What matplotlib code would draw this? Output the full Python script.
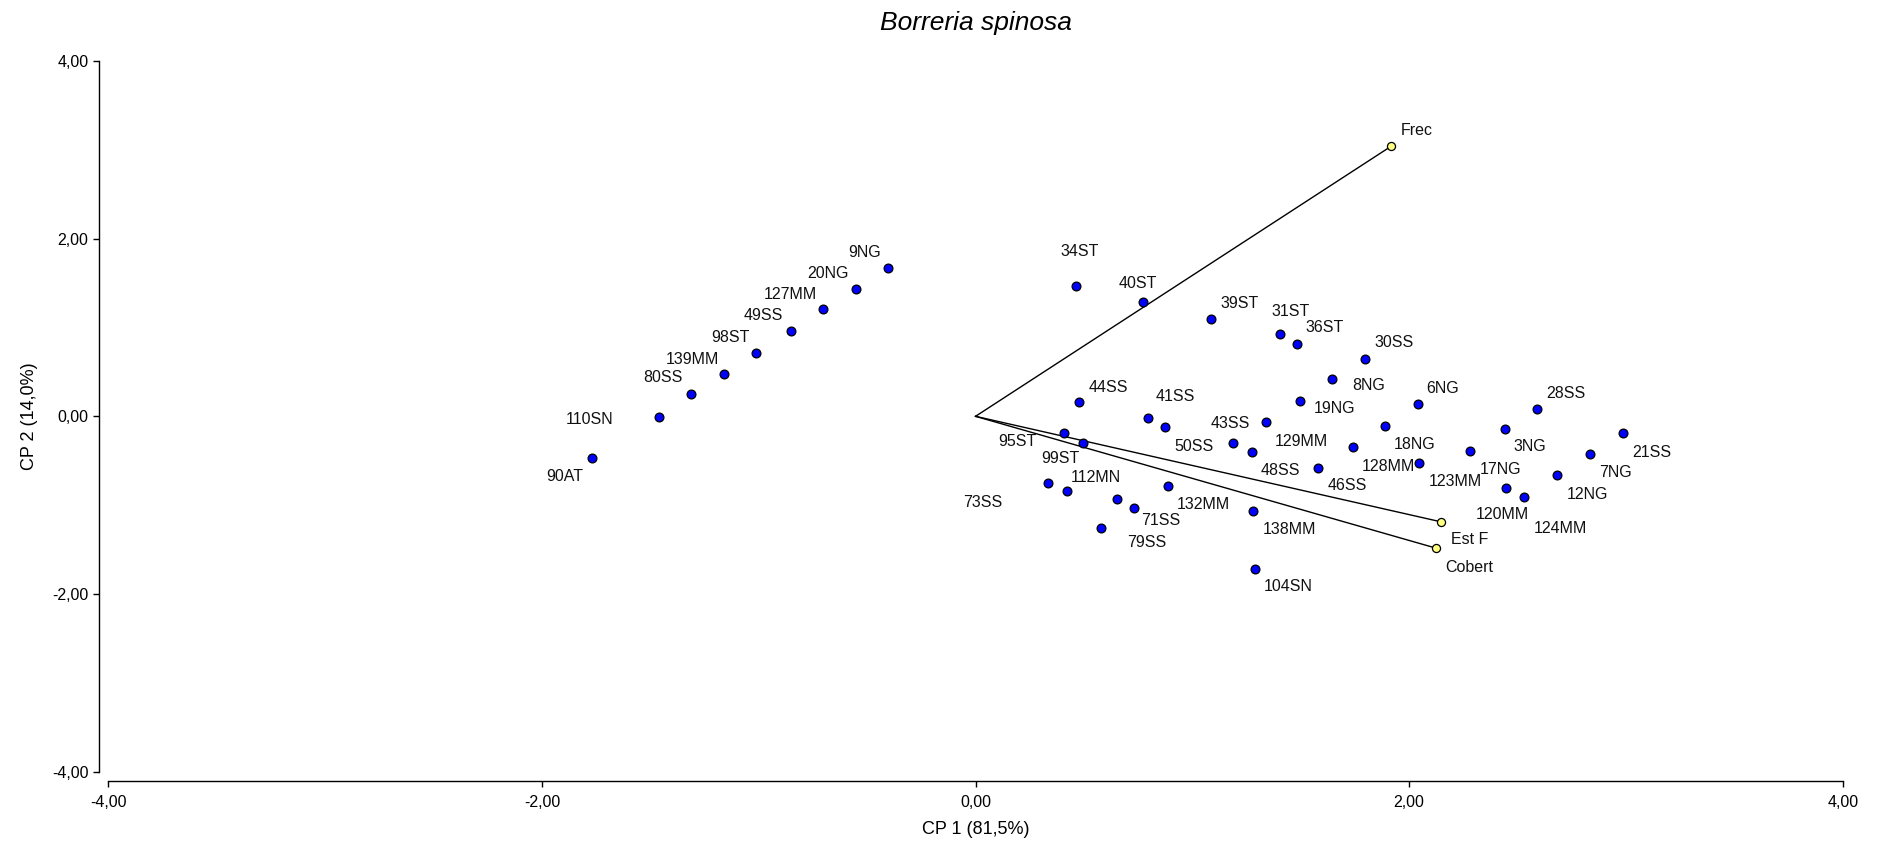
import matplotlib
matplotlib.use("Agg")
import matplotlib.pyplot as plt
from matplotlib.ticker import FixedLocator, FuncFormatter

plt.rcParams['font.family'] = ['Liberation Sans', 'DejaVu Sans']

# sites (scores on CP1 / CP2)
obs_labels = ['9NG', '20NG', '127MM', '49SS', '98ST', '139MM', '80SS', '110SN', '90AT',
              '34ST', '40ST', '39ST', '31ST', '36ST', '30SS', '8NG', '19NG', '6NG', '28SS',
              '44SS', '41SS', '50SS', '129MM', '43SS', '48SS', '46SS', '128MM', '18NG', '123MM',
              '95ST', '99ST',
              '3NG', '17NG', '7NG', '21SS', '12NG', '120MM', '124MM',
              '73SS', '112MN', '', '71SS', '79SS', '132MM', '138MM', '104SN']
obs_x = [-0.405, -0.552, -0.705, -0.853, -1.012, -1.160, -1.312, -1.460, -1.767,
         0.464, 0.772, 1.087, 1.403, 1.483, 1.797, 1.646, 1.495, 2.040, 2.591,
         0.479, 0.795, 0.873, 1.338, 1.187, 1.273, 1.581, 1.740, 1.889, 2.046,
         0.409, 0.495,
         2.441, 2.283, 2.836, 2.985, 2.683, 2.448, 2.528,
         0.336, 0.422, 0.652, 0.730, 0.578, 0.887, 1.281, 1.287]
obs_y = [1.675, 1.432, 1.206, 0.962, 0.717, 0.473, 0.248, -0.004, -0.474,
         1.469, 1.292, 1.100, 0.928, 0.818, 0.646, 0.417, 0.172, 0.142, 0.086,
         0.158, -0.019, -0.124, -0.068, -0.298, -0.402, -0.579, -0.350, -0.106, -0.523,
         -0.185, -0.298,
         -0.140, -0.388, -0.421, -0.192, -0.666, -0.805, -0.910,
         -0.752, -0.838, -0.929, -1.034, -1.259, -0.786, -1.068, -1.714]

# variables (loadings)
var_labels = ['Frec', 'Est F', 'Cobert']
var_x = [1.917, 2.148, 2.126]
var_y = [3.040, -1.188, -1.485]

ticks = [-4, -2, 0, 2, 4]

# where each label sits relative to its point (pixels, right / down)
obs_offsets = [(-23, -15), (-28, -16), (-32, -15), (-27, -15), (-26, -15), (-32, -15), (-28, -17), (-69, 3), (-28, 18),
               (4, -34), (-5, -18), (28, -15), (11, -22), (28, -16), (29, -16), (36, 6), (35, 7), (25, -15), (29, -15),
               (29, -15), (27, -22), (29, 19), (36, 19), (-3, -19), (29, 18), (29, 18), (36, 19), (30, 19), (36, 19),
               (-47, 9), (-22, 16),
               (25, 18), (30, 19), (25, 19), (29, 19), (30, 19), (-4, 27), (37, 31),
               (-66, 19), (29, -13), (0, 0), (27, 12), (46, 14), (36, 18), (36, 18), (34, 18)]
var_offsets = [(26, -16), (28, 18), (33, 19)]

fig = plt.figure(figsize=(18.78, 8.42), dpi=100)
ax = fig.add_axes([0.0577, 0.0835, 0.9235, 0.8441])

for vx, vy in zip(var_x, var_y):
    ax.plot([0, vx], [0, vy], color='black', lw=1.0, zorder=2)
ax.scatter(var_x, var_y, s=34, color='#ffff80', edgecolor='black', linewidth=0.9, zorder=3)
ax.scatter(obs_x, obs_y, s=40, color='#0000ff', edgecolor='black', linewidth=0.9, zorder=3)

for lab, x, y, (dx, dy) in zip(obs_labels, obs_x, obs_y, obs_offsets):
    if lab:
        ax.annotate(lab, (x, y), xytext=(dx, -dy), textcoords='offset pixels',
                    ha='center', va='center', fontsize=11.5, color='#111111')
for lab, x, y, (dx, dy) in zip(var_labels, var_x, var_y, var_offsets):
    ax.annotate(lab, (x, y), xytext=(dx, -dy), textcoords='offset pixels',
                ha='center', va='center', fontsize=11.5, color='#111111')

ax.set_xlim(-4, 4)
ax.set_ylim(-4, 4)
ax.xaxis.set_major_locator(FixedLocator(ticks))
ax.yaxis.set_major_locator(FixedLocator(ticks))
fmt = FuncFormatter(lambda v, p: f"{v:.2f}".replace('.', ','))
ax.xaxis.set_major_formatter(fmt)
ax.yaxis.set_major_formatter(fmt)

for side in ['top', 'right']:
    ax.spines[side].set_visible(False)
for side in ['left', 'bottom']:
    ax.spines[side].set_position(('outward', 6.5))
    ax.spines[side].set_linewidth(1.0)
ax.tick_params(axis='both', length=4.3, width=1.0, labelsize=11.5, colors='black')
ax.tick_params(axis='x', pad=6)
ax.tick_params(axis='y', pad=3.5)

ax.set_xlabel('CP 1 (81,5%)', fontsize=13)
ax.xaxis.set_label_coords(0.5, -0.082)
ax.xaxis.label.set_va('center')
ax.set_ylabel('CP 2 (14,0%)', fontsize=13, family=['Liberation Sans Narrow', 'Liberation Sans'])
ax.yaxis.set_label_coords(-0.0455, 0.5)
ax.yaxis.label.set_va('center')

fig.text(0.5195, 0.9727, 'Borreria spinosa', fontsize=19, style='italic', ha='center', va='center')

fig.savefig('out.png', dpi=100)
